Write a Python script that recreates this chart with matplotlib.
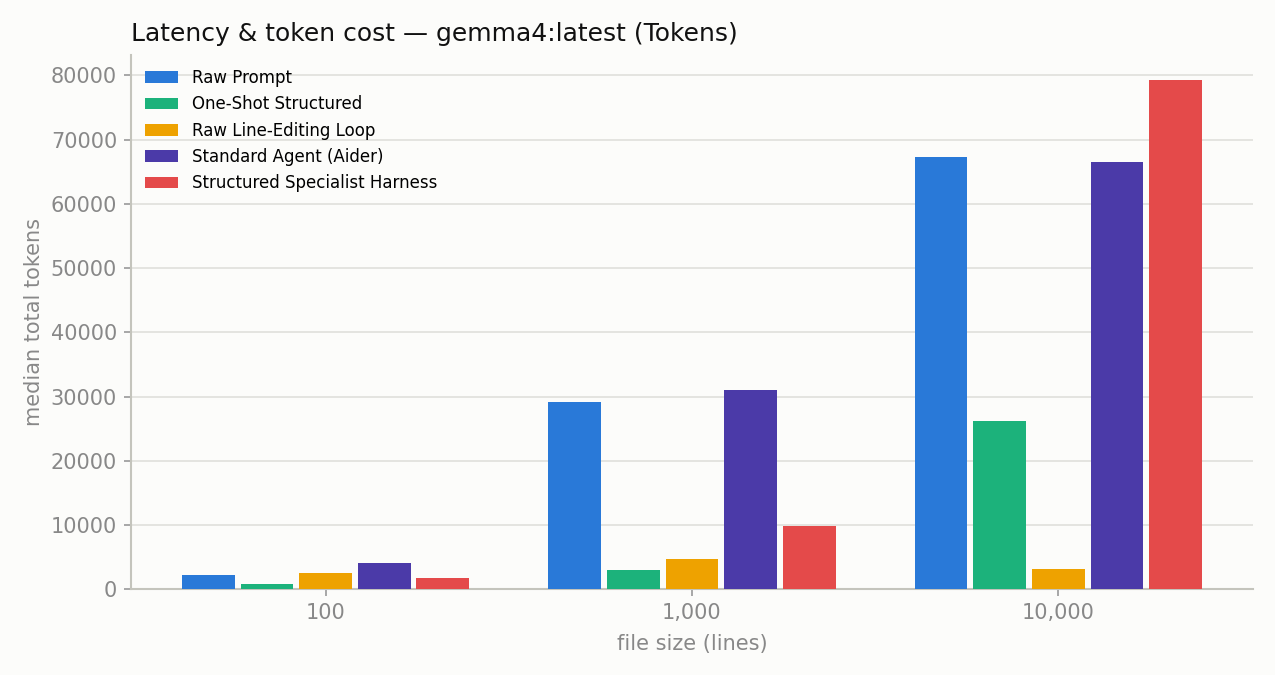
import matplotlib
matplotlib.use("Agg")
import matplotlib.pyplot as plt
import numpy as np

sizes = ["100", "1,000", "10,000"]
methods = ["Raw Prompt", "One-Shot Structured", "Raw Line-Editing Loop",
           "Standard Agent (Aider)", "Structured Specialist Harness"]
colors = ["#2979d8", "#1cb27b", "#eea200", "#4b3aa8", "#e44a4a"]

raw_prompt = [2250, 29150, 67250]
one_shot = [850, 3030, 26200]
line_loop = [2570, 4740, 3190]
aider = [4120, 31030, 66470]
harness = [1790, 9870, 79220]
series = [raw_prompt, one_shot, line_loop, aider, harness]

bg = "#fcfcfa"
fig = plt.figure(figsize=(12.75, 6.75), dpi=100, facecolor=bg)
ax = fig.add_axes([0.1027, 0.1267, 0.88, 0.792])
ax.set_facecolor(bg)

x = np.arange(len(sizes))
slot = 0.16
for i, (name, vals) in enumerate(zip(methods, series)):
    off = (i - 2) * slot
    ax.bar(x + off, vals, width=slot * 0.9, color=colors[i], label=name, zorder=3)

ax.set_xticks(x)
ax.set_xticklabels(sizes)
ax.yaxis.grid(True, color="#e2e2de", linewidth=1.3, zorder=0)
ax.set_axisbelow(True)
for s in ["top", "right"]:
    ax.spines[s].set_visible(False)
for s in ["left", "bottom"]:
    ax.spines[s].set_color("#c4c4bc")
    ax.spines[s].set_linewidth(1.5)
ax.tick_params(axis="both", colors="#999999", labelcolor="#888888",
               labelsize=15, length=5, width=1.2, pad=5)

ax.set_xlabel("file size (lines)", fontsize=15, color="#888888", labelpad=8)
ax.set_ylabel("median total tokens", fontsize=15, color="#888888", labelpad=5)
ax.set_title("Latency & token cost — gemma4:latest (Tokens)", loc="left",
             fontsize=18, color="#111111", pad=10)

ax.legend(loc="upper left", frameon=False, fontsize=12, labelspacing=0.5,
          handlelength=2.0, handleheight=0.7, borderaxespad=0.45)

fig.savefig("out.png", dpi=100, facecolor=bg)
